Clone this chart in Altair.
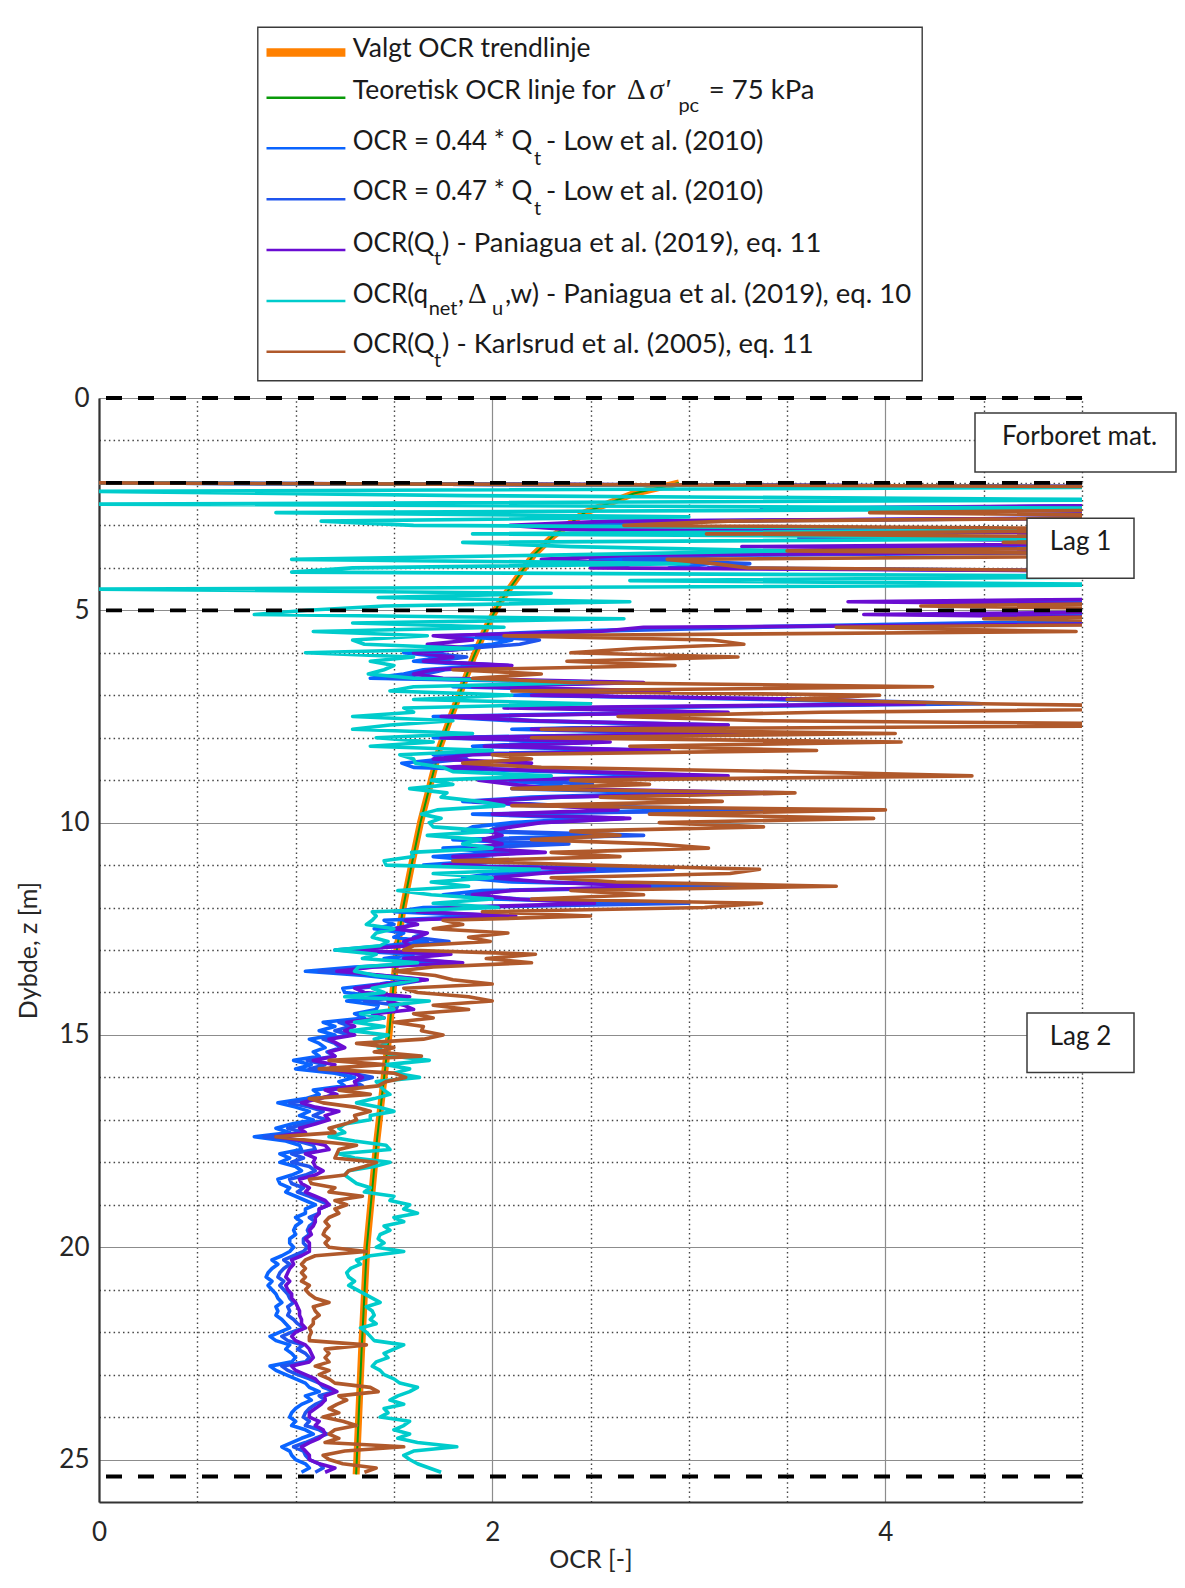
import altair as alt
import pandas as pd

# ---------------- data ----------------
DEPTH = [
    2.0, 2.1, 2.2, 2.3, 2.4, 2.5, 2.6, 2.7, 2.8, 2.9,
    3.0, 3.1, 3.2, 3.3, 3.4, 3.5, 3.6, 3.7, 3.8, 3.9,
    4.0, 4.1, 4.2, 4.3, 4.4, 4.5, 4.6, 4.7, 4.8, 4.9,
    5.0, 5.1, 5.2, 5.3, 5.4, 5.5, 5.6, 5.7, 5.8, 5.9,
    6.0, 6.1, 6.2, 6.3, 6.4, 6.5, 6.6, 6.7, 6.8, 6.9,
    7.0, 7.1, 7.2, 7.3, 7.4, 7.5, 7.6, 7.7, 7.8, 7.9,
    8.0, 8.1, 8.2, 8.3, 8.4, 8.5, 8.6, 8.7, 8.8, 8.9,
    9.0, 9.1, 9.2, 9.3, 9.4, 9.5, 9.6, 9.7, 9.8, 9.9,
    10.0, 10.1, 10.2, 10.3, 10.4, 10.5, 10.6, 10.7, 10.8, 10.9,
    11.0, 11.1, 11.2, 11.3, 11.4, 11.5, 11.6, 11.7, 11.8, 11.9,
    12.0, 12.1, 12.2, 12.3, 12.4, 12.5, 12.6, 12.7, 12.8, 12.9,
    13.0, 13.1, 13.2, 13.3, 13.4, 13.5, 13.6, 13.7, 13.8, 13.9,
    14.0, 14.1, 14.2, 14.3, 14.4, 14.5, 14.6, 14.7, 14.8, 14.9,
    15.0, 15.1, 15.2, 15.3, 15.4, 15.5, 15.6, 15.7, 15.8, 15.9,
    16.0, 16.1, 16.2, 16.3, 16.4, 16.5, 16.6, 16.7, 16.8, 16.9,
    17.0, 17.1, 17.2, 17.3, 17.4, 17.5, 17.6, 17.7, 17.8, 17.9,
    18.0, 18.1, 18.2, 18.3, 18.4, 18.5, 18.6, 18.7, 18.8, 18.9,
    19.0, 19.1, 19.2, 19.3, 19.4, 19.5, 19.6, 19.7, 19.8, 19.9,
    20.0, 20.1, 20.2, 20.3, 20.4, 20.5, 20.6, 20.7, 20.8, 20.9,
    21.0, 21.1, 21.2, 21.3, 21.4, 21.5, 21.6, 21.7, 21.8, 21.9,
    22.0, 22.1, 22.2, 22.3, 22.4, 22.5, 22.6, 22.7, 22.8, 22.9,
    23.0, 23.1, 23.2, 23.3, 23.4, 23.5, 23.6, 23.7, 23.8, 23.9,
    24.0, 24.1, 24.2, 24.3, 24.4, 24.5, 24.6, 24.7, 24.8, 24.9,
    25.0, 25.1, 25.2, 25.3,
]

OCR_LOW_044 = [
    0.0, 6, 6, 6, 6, 6, 3.6, 6, 6, 2.8,
    2.2, 2.5, 6, 3.8, 6, 3.9, 6, 3.0, 2.5, 3.1,
    2.9, 6, 6, 6, 6, 6, 6, 6, 4.3, 6,
    6, 4.37, 6, 4.4, 3.16, 2.3, 1.8, 2.1, 2.0, 1.75,
    1.55, 1.75, 1.6, 1.95, 1.65, 1.55, 1.38, 2.5, 1.8, 2.6,
    2.1, 3.4, 4.2, 2.4, 2.86, 1.7, 2.1, 3.0, 2.1, 3.0,
    1.7, 2.4, 1.9, 2.7, 1.7, 1.75, 1.54, 1.6, 2.3, 2.9,
    2.0, 2.35, 2.1, 2.93, 2.2, 1.85, 2.2, 3.28, 1.9, 2.5,
    2.1, 1.9, 1.85, 2.59, 1.8, 2.24, 1.75, 2.05, 1.7, 1.95,
    1.65, 2.73, 2.0, 1.85, 2.1, 3.1, 1.95, 1.75, 2.0, 2.81,
    1.65, 1.5, 1.95, 1.45, 1.5, 1.4, 1.55, 1.5, 1.67, 1.45,
    1.2, 1.6, 1.45, 1.7, 1.3, 1.05, 1.35, 1.55, 1.43, 1.24,
    1.25, 1.45, 1.26, 1.42, 1.41, 1.3, 1.35, 1.14, 1.2, 1.12,
    1.2, 1.07, 1.12, 1.15, 1.09, 1.12, 0.99, 1.08, 1.0, 1.2,
    1.3, 1.22, 1.25, 1.09, 1.12, 1.05, 0.91, 1.0, 1.07, 1.02,
    1.09, 0.98, 0.9, 0.97, 0.79, 0.95, 1.02, 1.03, 0.92, 0.97,
    0.92, 1.0, 1.03, 0.98, 0.91, 0.92, 0.97, 0.95, 1.0, 1.05,
    1.1, 1.05, 1.05, 1.0, 1.03, 1.0, 0.99, 1.0, 0.97, 0.97,
    0.99, 0.97, 0.93, 0.88, 0.91, 0.88, 0.86, 0.85, 0.88, 0.86,
    0.88, 0.9, 0.91, 0.93, 0.9, 0.91, 0.9, 0.93, 0.95, 0.97,
    0.92, 0.87, 0.9, 0.97, 0.95, 0.98, 1.0, 0.98, 0.87, 0.9,
    0.95, 1.0, 1.05, 1.07, 1.12, 1.05, 1.08, 1.03, 1.0, 0.98,
    0.97, 1.0, 0.98, 1.05, 1.09, 1.03, 0.98, 0.93, 0.97, 0.98,
    1.0, 1.05, 1.07, 1.03,
]

OCR_LOW_047 = [
    0.0, 6, 6, 6, 6, 6, 3.85, 6, 6, 2.99,
    2.35, 2.67, 6, 4.06, 6, 4.17, 6, 3.2, 2.67, 3.31,
    3.1, 6, 6, 6, 6, 6, 6, 6, 4.59, 6,
    6, 4.67, 6, 4.7, 3.38, 2.46, 1.92, 2.24, 2.14, 1.87,
    1.66, 1.87, 1.71, 2.08, 1.76, 1.66, 1.47, 2.67, 1.92, 2.78,
    2.24, 3.63, 4.49, 2.56, 3.05, 1.82, 2.24, 3.2, 2.24, 3.2,
    1.82, 2.56, 2.03, 2.88, 1.82, 1.87, 1.64, 1.71, 2.46, 3.1,
    2.14, 2.51, 2.24, 3.13, 2.35, 1.98, 2.35, 3.5, 2.03, 2.67,
    2.24, 2.03, 1.98, 2.77, 1.92, 2.39, 1.87, 2.19, 1.82, 2.08,
    1.76, 2.92, 2.14, 1.98, 2.24, 3.31, 2.08, 1.87, 2.14, 3.0,
    1.76, 1.6, 2.08, 1.55, 1.6, 1.5, 1.66, 1.6, 1.78, 1.55,
    1.28, 1.71, 1.55, 1.82, 1.39, 1.12, 1.44, 1.66, 1.53, 1.32,
    1.34, 1.55, 1.35, 1.52, 1.51, 1.39, 1.44, 1.22, 1.28, 1.2,
    1.28, 1.14, 1.2, 1.23, 1.16, 1.2, 1.06, 1.15, 1.07, 1.28,
    1.39, 1.3, 1.34, 1.16, 1.2, 1.12, 0.97, 1.07, 1.14, 1.09,
    1.16, 1.05, 0.96, 1.04, 0.84, 1.01, 1.09, 1.1, 0.98, 1.04,
    0.98, 1.07, 1.1, 1.05, 0.97, 0.98, 1.04, 1.01, 1.07, 1.12,
    1.17, 1.12, 1.12, 1.07, 1.1, 1.07, 1.06, 1.07, 1.04, 1.04,
    1.06, 1.04, 0.99, 0.94, 0.97, 0.94, 0.92, 0.91, 0.94, 0.92,
    0.94, 0.96, 0.97, 0.99, 0.96, 0.97, 0.96, 0.99, 1.01, 1.04,
    0.98, 0.93, 0.96, 1.04, 1.01, 1.05, 1.07, 1.05, 0.93, 0.96,
    1.01, 1.07, 1.12, 1.14, 1.2, 1.12, 1.15, 1.1, 1.07, 1.05,
    1.04, 1.07, 1.05, 1.12, 1.16, 1.1, 1.05, 0.99, 1.04, 1.05,
    1.07, 1.12, 1.14, 1.1,
]

OCR_PANIAGUA_11 = [
    0.0, 6, 6, 6, 6, 6, 3.37, 6, 6, 2.6,
    2.09, 2.4, 6, 3.56, 6, 3.27, 6, 2.7, 2.25, 2.73,
    2.5, 6, 6, 6, 6, 6, 6, 6, 3.81, 6,
    6, 3.89, 6, 6, 2.77, 2.54, 1.7, 1.9, 1.67, 1.9,
    1.6, 1.8, 1.65, 2.1, 1.7, 1.6, 1.75, 2.77, 1.9, 2.9,
    2.2, 3.7, 4.2, 2.06, 3.2, 1.74, 2.2, 3.2, 2.2, 3.28,
    1.74, 2.6, 1.96, 2.9, 1.9, 1.7, 2.2, 1.75, 2.44, 3.2,
    1.93, 2.1, 2.3, 3.5, 2.3, 1.9, 2.3, 2.64, 2.0, 2.7,
    2.25, 2.1, 1.98, 2.05, 1.95, 2.05, 1.9, 2.27, 1.8, 2.1,
    1.75, 2.52, 2.24, 2.0, 2.27, 2.8, 2.1, 1.9, 2.12, 2.52,
    1.8, 1.62, 2.12, 1.56, 1.62, 1.5, 1.67, 1.62, 1.55, 1.58,
    1.28, 1.79, 1.55, 1.85, 1.4, 1.21, 1.45, 1.67, 1.45, 1.3,
    1.35, 1.58, 1.47, 1.55, 1.6, 1.4, 1.45, 1.26, 1.3, 1.25,
    1.3, 1.17, 1.21, 1.25, 1.17, 1.2, 1.09, 1.2, 1.17, 1.3,
    1.34, 1.3, 1.31, 1.15, 1.21, 1.12, 1.03, 1.1, 1.22, 1.15,
    1.17, 1.1, 1.02, 1.05, 0.9, 1.05, 1.15, 1.17, 1.05, 1.1,
    1.09, 1.1, 1.14, 1.1, 1.02, 1.03, 1.07, 1.05, 1.1, 1.15,
    1.17, 1.12, 1.12, 1.1, 1.1, 1.09, 1.07, 1.08, 1.05, 1.07,
    1.07, 1.07, 1.03, 0.98, 0.99, 0.97, 0.96, 0.95, 0.97, 0.95,
    0.96, 0.98, 0.98, 1.0, 1.01, 1.02, 1.02, 1.03, 1.03, 1.05,
    1.0, 0.98, 1.0, 1.05, 1.07, 1.08, 1.09, 1.07, 0.98, 1.0,
    1.05, 1.1, 1.12, 1.17, 1.21, 1.15, 1.15, 1.13, 1.1, 1.07,
    1.07, 1.12, 1.1, 1.14, 1.15, 1.12, 1.07, 1.03, 1.05, 1.07,
    1.07, 1.12, 1.2, 1.15,
]

OCR_PANIAGUA_10 = [
    0.0, 5.5, 0.0, 1.87, 5.5, 0.0, 5.5, 0.9, 3.0, 1.13,
    1.6, 5.5, 1.9, 5.5, 1.85, 2.4, 3.5, 2.3, 0.98, 3.0,
    1.29, 0.98, 5.5, 2.7, 5.5, 0.0, 2.3, 1.42, 2.7, 1.45,
    1.06, 0.79, 2.67, 1.29, 2.06, 1.09, 1.67, 1.29, 1.35, 1.9,
    1.05, 1.6, 1.38, 1.5, 1.45, 1.37, 1.6, 2.5, 1.6, 1.48,
    2.1, 1.6, 2.5, 1.55, 1.6, 1.29, 1.8, 1.48, 1.29, 1.9,
    1.41, 1.7, 1.38, 2.0, 1.53, 1.6, 1.61, 1.75, 1.8, 2.3,
    1.69, 1.8, 1.58, 1.77, 1.74, 1.93, 2.06, 1.72, 1.64, 1.74,
    1.68, 1.7, 2.0, 1.67, 1.94, 1.85, 2.0, 1.59, 1.6, 1.45,
    1.46, 2.24, 1.7, 2.0, 1.69, 1.88, 1.52, 1.69, 2.0, 1.7,
    2.03, 1.39, 1.41, 1.39, 1.36, 1.5, 1.41, 1.39, 1.47, 1.43,
    1.2, 1.41, 1.34, 1.62, 1.32, 1.3, 1.41, 1.62, 1.5, 1.39,
    1.45, 1.25, 1.68, 1.48, 1.5, 1.33, 1.45, 1.3, 1.45, 1.28,
    1.47, 1.4, 1.46, 1.42, 1.45, 1.5, 1.68, 1.46, 1.58, 1.5,
    1.63, 1.41, 1.43, 1.45, 1.48, 1.4, 1.31, 1.42, 1.5, 1.38,
    1.38, 1.25, 1.22, 1.25, 1.17, 1.3, 1.46, 1.48, 1.22, 1.3,
    1.48, 1.4, 1.27, 1.25, 1.28, 1.31, 1.38, 1.35, 1.5, 1.48,
    1.58, 1.55, 1.62, 1.5, 1.55, 1.45, 1.48, 1.43, 1.42, 1.45,
    1.41, 1.55, 1.38, 1.31, 1.33, 1.28, 1.26, 1.27, 1.3, 1.27,
    1.31, 1.35, 1.39, 1.43, 1.36, 1.39, 1.4, 1.38, 1.41, 1.33,
    1.36, 1.38, 1.4, 1.55, 1.5, 1.45, 1.47, 1.41, 1.39, 1.43,
    1.45, 1.5, 1.53, 1.62, 1.58, 1.52, 1.48, 1.55, 1.45, 1.47,
    1.43, 1.58, 1.55, 1.5, 1.58, 1.52, 1.62, 1.82, 1.6, 1.55,
    1.58, 1.62, 1.68, 1.74,
]

OCR_KARLSRUD = [
    0.0, 6, 6, 6, 6, 6, 6, 3.92, 6, 3.2,
    2.67, 6, 3.09, 6, 4.6, 6, 3.5, 6, 2.89, 3.13,
    3.3, 6, 6, 6, 6, 6, 6, 6, 6, 4.18,
    6, 6, 4.5, 6, 3.75, 4.97, 2.06, 3.12, 3.28, 2.73,
    2.4, 3.25, 2.38, 2.93, 1.8, 2.25, 1.9, 2.4, 4.24, 2.1,
    3.97, 3.5, 4.49, 6, 3.67, 2.64, 3.38, 6, 2.25, 4.05,
    2.2, 4.08, 2.7, 3.65, 2.0, 2.2, 1.85, 2.25, 3.52, 4.44,
    2.4, 2.8, 2.1, 3.54, 2.55, 3.17, 2.1, 4.0, 2.8, 3.94,
    2.85, 3.38, 2.4, 2.65, 2.2, 2.82, 3.1, 2.3, 2.65, 1.8,
    2.5, 3.36, 3.21, 2.3, 2.63, 3.75, 2.4, 2.77, 2.2, 3.37,
    3.08, 1.95, 2.5, 1.75, 1.85, 1.7, 2.08, 1.88, 1.99, 1.6,
    1.55, 2.22, 1.97, 2.2, 1.7, 1.5, 1.71, 1.8, 2.0, 1.55,
    1.62, 1.88, 2.0, 1.7, 1.88, 1.6, 1.7, 1.5, 1.65, 1.64,
    1.75, 1.65, 1.31, 1.5, 1.4, 1.64, 1.17, 1.45, 1.12, 1.5,
    1.56, 1.46, 1.42, 1.22, 1.38, 1.07, 1.14, 1.3, 1.38, 1.3,
    1.31, 1.25, 1.17, 1.2, 0.9, 1.1, 1.31, 1.22, 1.21, 1.2,
    1.41, 1.35, 1.27, 1.25, 1.07, 1.08, 1.2, 1.17, 1.34, 1.2,
    1.26, 1.2, 1.22, 1.17, 1.15, 1.17, 1.15, 1.14, 1.17, 1.15,
    1.17, 1.36, 1.1, 1.05, 1.03, 1.05, 1.03, 1.05, 1.03, 1.07,
    1.05, 1.07, 1.1, 1.17, 1.09, 1.1, 1.12, 1.09, 1.09, 1.07,
    1.08, 1.07, 1.07, 1.36, 1.15, 1.17, 1.15, 1.17, 1.1, 1.17,
    1.12, 1.17, 1.2, 1.38, 1.42, 1.22, 1.26, 1.21, 1.17, 1.22,
    1.14, 1.24, 1.31, 1.2, 1.17, 1.22, 1.15, 1.55, 1.25, 1.14,
    1.17, 1.24, 1.41, 1.35,
]

TREND_DEPTH = [2.0, 2.25, 2.7, 3.25, 3.7, 4.25, 4.8, 5.4, 6.1, 6.9, 7.5, 8.2,
               9.1, 10.0, 11.0, 12.0, 13.0, 14.0, 15.0, 17.5, 20.0, 22.5, 25.35]
TREND_OCR = [2.95, 2.72, 2.47, 2.31, 2.21, 2.125, 2.04, 1.97, 1.905, 1.84, 1.79, 1.735,
             1.685, 1.635, 1.59, 1.547, 1.515, 1.495, 1.475, 1.413, 1.362, 1.335, 1.308]
THEORY_OCR = [2.95, 2.72, 2.47, 2.31, 2.21, 2.125, 2.04, 1.97, 1.905, 1.84, 1.79, 1.735,
              1.685, 1.635, 1.59, 1.547, 1.515, 1.495, 1.475, 1.413, 1.362, 1.335, 1.308]

LAYER_BOUNDARIES = [0.0, 2.0, 5.0, 25.4]
X_TICKS = [0, 0.5, 1, 1.5, 2, 2.5, 3, 3.5, 4, 4.5, 5]
Y_TICKS = list(range(0, 26))

# ---------------- styling ----------------
FONT = "Lato"
SERIF = "Liberation Serif"
TXT = "#1a1a1a"
W, H = 983, 1104

C_ORANGE = "#ff8000"
C_GREEN = "#0a9a0a"
C_BLUE1 = "#0a64ff"
C_BLUE2 = "#1f55ee"
C_PURPLE = "#6a0dd2"
C_CYAN = "#00cccc"
C_BROWN = "#b0592b"

x_scale = alt.Scale(domain=[0, 5], nice=False, zero=False)
y_scale = alt.Scale(domain=[0, 26], nice=False, zero=False, reverse=True)

x_axis = alt.Axis(
    values=X_TICKS,
    labelExpr="datum.value % 2 === 0 ? format(datum.value, 'd') : ''",
    labelFlush=False,
    grid=True,
    gridDash={"condition": {"test": "datum.value % 2 === 0", "value": [1, 0]}, "value": [1.5, 3.2]},
    gridColor={"condition": {"test": "datum.value % 2 === 0", "value": "#8c8c8c"}, "value": "#444444"},
    gridWidth={"condition": {"test": "datum.value % 2 === 0", "value": 1.2}, "value": 1.4},
    ticks=False,
    domainColor="#333333", domainWidth=2.2,
    labelFont=FONT, labelFontSize=26, labelColor="#262626", labelPadding=17,
    title="OCR [-]", titleFont=FONT, titleFontSize=25, titleFontWeight="normal",
    titleColor="#262626", titleX=W / 2, titleY=57, titleAlign="center", titleBaseline="middle",
)
y_axis = alt.Axis(
    values=Y_TICKS,
    labelExpr="datum.value % 5 === 0 ? format(datum.value, 'd') : ''",
    labelFlush=False,
    grid=True,
    gridDash={"condition": {"test": "datum.value % 5 === 0", "value": [1, 0]}, "value": [1.5, 3.2]},
    gridColor={"condition": {"test": "datum.value % 5 === 0", "value": "#8c8c8c"}, "value": "#444444"},
    gridWidth={"condition": {"test": "datum.value % 5 === 0", "value": 1.2}, "value": 1.4},
    ticks=False,
    domainColor="#333333", domainWidth=2.2,
    labelFont=FONT, labelFontSize=26, labelColor="#262626", labelPadding=10,
    title="Dybde, z [m]", titleFont=FONT, titleFontSize=25, titleFontWeight="normal",
    titleColor="#262626", titleX=-71, titleY=H / 2, titleAngle=270,
    titleAlign="center", titleBaseline="middle",
)


def line_layer(depths, vals, color, width, axes=False):
    df = pd.DataFrame({"depth": depths, "ocr": vals})
    if axes:
        xe = alt.X("ocr:Q", scale=x_scale, axis=x_axis)
        ye = alt.Y("depth:Q", scale=y_scale, axis=y_axis)
    else:
        xe = alt.X("ocr:Q", scale=x_scale)
        ye = alt.Y("depth:Q", scale=y_scale)
    return alt.Chart(df).mark_line(
        color=color, strokeWidth=width, clip=True, strokeJoin="round", strokeCap="butt"
    ).encode(x=xe, y=ye, order=alt.Order("depth:Q"))


layers = [
    line_layer(TREND_DEPTH, TREND_OCR, C_ORANGE, 7, axes=True),
    line_layer(TREND_DEPTH, THEORY_OCR, C_GREEN, 2),
    line_layer(DEPTH, OCR_LOW_044, C_BLUE1, 3.6),
    line_layer(DEPTH, OCR_LOW_047, C_BLUE2, 3.6),
    line_layer(DEPTH, OCR_PANIAGUA_11, C_PURPLE, 3.6),
    line_layer(DEPTH, OCR_PANIAGUA_10, C_CYAN, 3.6),
    line_layer(DEPTH, OCR_KARLSRUD, C_BROWN, 3.6),
]

# layer boundaries (black dashed)
layers.append(
    alt.Chart(pd.DataFrame({"depth": LAYER_BOUNDARIES}))
    .mark_rule(color="black", strokeWidth=3.8, strokeDash=[16, 16])
    .encode(y=alt.Y("depth:Q", scale=y_scale))
)

DUMMY = pd.DataFrame({"k": [0]})


def box(x1, x2, y1, y2, sw=1.5):
    return alt.Chart(DUMMY).mark_rect(fill="white", stroke="#3a3a3a", strokeWidth=sw).encode(
        x=alt.value(x1), x2=alt.value(x2), y=alt.value(y1), y2=alt.value(y2))


def label(text, x, y, size=27, font=FONT, style="normal", align="left"):
    return alt.Chart(DUMMY).mark_text(
        text=text, align=align, baseline="alphabetic", font=font, fontSize=size,
        fontStyle=style, color=TXT,
    ).encode(x=alt.value(x), y=alt.value(y))


def sample(color, y, width):
    return alt.Chart(DUMMY).mark_rule(color=color, strokeWidth=width, strokeCap="butt").encode(
        x=alt.value(167.5), x2=alt.value(246.4), y=alt.value(y))


# annotation boxes
layers += [
    box(876, 1077, 15, 74), label("Forboret mat.", 980.5, 47, size=26, align="center"),
    box(928, 1035, 120.3, 180.3), label("Lag 1", 981.5, 152, size=26, align="center"),
    box(928, 1035, 615, 674.6), label("Lag 2", 981.5, 646.5, size=26, align="center"),
]

# custom legend (with subscripts)
PRE = 26
MAIN = 26.5
TAIL = 27.5
layers += [
    box(158.8, 823.2, -370.7, -17.3, sw=1.4),
    sample(C_ORANGE, -345.5, 8.4),
    sample(C_GREEN, -300.3, 2.4),
    sample(C_BLUE1, -249.7, 2.4),
    sample(C_BLUE2, -198.7, 2.4),
    sample(C_PURPLE, -148.0, 2.4),
    sample(C_CYAN, -97.0, 2.4),
    sample(C_BROWN, -46.3, 2.4),
    label("Valgt OCR trendlinje", 253.8, -340.7, size=MAIN),
    label("Teoretisk OCR linje for", 253.8, -299, size=MAIN),
    label("\u0394", 528, -299, size=29, font=SERIF),
    label("\u03c3'", 550.5, -299, size=29, font=SERIF, style="italic"),
    label("pc", 579.4, -286.5, size=20),
    label("= 75 kPa", 609.8, -299, size=TAIL),
    label("OCR = 0.44 * Q", 253.8, -248, size=PRE),
    label("t", 435, -233, size=20),
    label("- Low et al. (2010)", 447, -248, size=TAIL),
    label("OCR = 0.47 * Q", 253.8, -198, size=PRE),
    label("t", 435, -183, size=20),
    label("- Low et al. (2010)", 447, -198, size=TAIL),
    label("OCR(Q", 253.8, -146.3, size=PRE),
    label("t", 335, -133, size=20),
    label(") - Paniagua et al. (2019), eq. 11", 343, -146.3, size=TAIL),
    label("OCR(q", 253.8, -95, size=PRE),
    label("net", 329.7, -83, size=20),
    label(",", 359, -95, size=PRE),
    label("\u0394", 369, -95, size=29, font=SERIF),
    label("u", 393, -83, size=20),
    label(",w) - Paniagua et al. (2019), eq. 10", 406, -95, size=TAIL),
    label("OCR(Q", 253.8, -44.7, size=PRE),
    label("t", 335, -31.3, size=20),
    label(") - Karlsrud et al. (2005), eq. 11", 343, -44.7, size=TAIL),
]

chart = alt.layer(*layers).properties(
    width=W, height=H,
    autosize=alt.AutoSizeParams(type="none"),
    padding={"left": 91, "top": 390, "right": 95, "bottom": 73},
).configure_view(strokeWidth=0)

chart.save("out.html", embed_options={"renderer": "svg", "actions": False})
